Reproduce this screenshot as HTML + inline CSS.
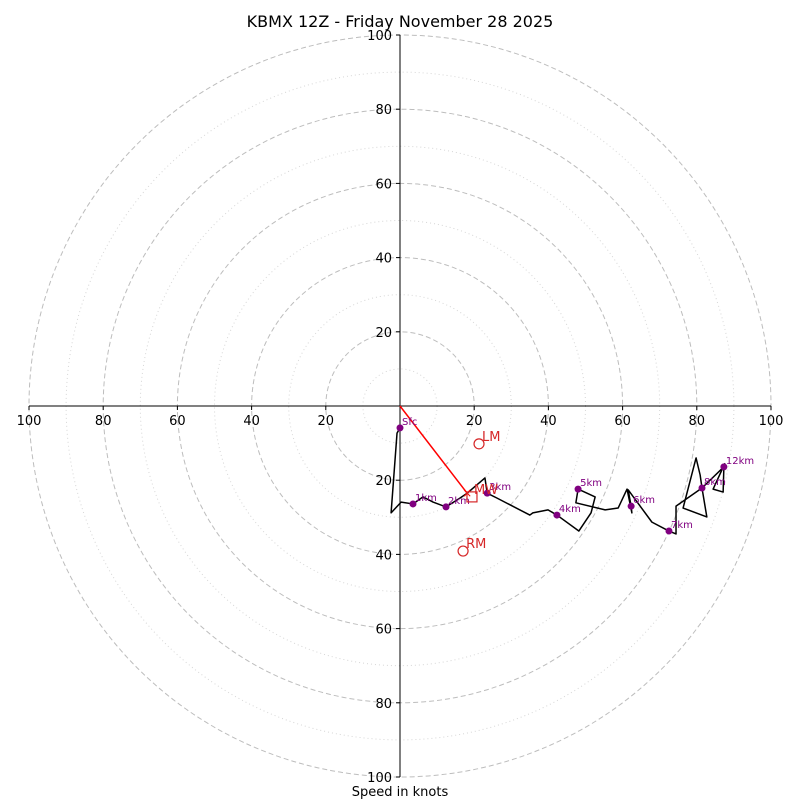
<!DOCTYPE html>
<html><head><meta charset="utf-8"><style>
html,body{margin:0;padding:0;background:#fff;}
svg{display:block;font-family:"DejaVu Sans","Liberation Sans",sans-serif;}
</style></head><body>
<svg id="hodo" width="800" height="800" viewBox="0 0 800 800">
<rect width="800" height="800" fill="#fff"/>
<text x="400" y="27" font-size="16" text-anchor="middle">KBMX 12Z - Friday November 28 2025</text>
<text x="400" y="796" font-size="13" text-anchor="middle">Speed in knots</text>
<g id="rings"></g><g id="axes"></g><g id="trace"></g><g id="marks"></g>
</svg>
<script>
const ringSpeeds=[10,20,30,40,50,60,70,80,90,100];
const tickLabels=[20,40,60,80,100];
const traceU=[0,-0.8,-2.4,0.3,3.5,6.2,8.9,12.4,16.2,18.1,22.9,23.5,26.1,35.0,35.8,39.9,42.3,48.2,51.5,52.6,48.0,47.4,55.3,58.8,61.2,62.5,62.3,61.5,67.9,72.5,74.4,74.4,81.4,80.9,79.8,76.3,82.7,81.4,87.3,87.1,84.4,87.6];
const traceV=[-5.9,-7.3,-28.8,-25.9,-26.4,-24.5,-25.9,-27.2,-24.8,-23.5,-19.4,-23.5,-24.8,-29.4,-28.8,-28.0,-29.4,-33.7,-28.8,-24.5,-22.4,-26.1,-28.0,-27.5,-22.4,-28.8,-27.0,-22.6,-31.3,-33.7,-34.5,-27.0,-22.1,-18.6,-14.0,-27.5,-29.9,-22.1,-16.4,-23.2,-22.4,-15.4];
const markerLabels=["Sfc","1km","2km","3km","4km","5km","6km","7km","8km","12km"];
const markerU=[0,3.5,12.4,23.5,42.3,48.0,62.3,72.5,81.4,87.3];
const markerV=[-5.9,-26.4,-27.2,-23.5,-29.4,-22.4,-27.0,-33.7,-22.1,-16.4];
const stormLabels=["LM","RM"];
const stormU=[21.3,17.0];
const stormV=[-10.2,-39.1];
const mwU=19.4, mwV=-24.5;
const shearU=18.1, shearV=-23.5;

const cx=400, cy=406, R=371, maxS=100;
const sx=u=>cx+u*R/maxS, sy=v=>cy-v*R/maxS, sr=s=>s*R/maxS;
const NS='http://www.w3.org/2000/svg';
function mk(tag,parent,attrs){const e=document.createElementNS(NS,tag);for(const k in attrs)e.setAttribute(k,attrs[k]);document.getElementById(parent).appendChild(e);return e;}

ringSpeeds.forEach(s=>{
  const major=s%20===0;
  const c=mk('circle','rings',{cx:cx,cy:cy,r:sr(s),fill:'none',stroke:major?'#bdbdbd':'#d6d6d6','stroke-width':1,'stroke-dasharray':major?'5,3':'1,3'});
  
  
});
let l=mk('line','axes',{x1:sx(-maxS),y1:cy,x2:sx(maxS),y2:cy,stroke:'#000','stroke-width':1});


l=mk('line','axes',{x1:cx,y1:sy(maxS),x2:cx,y2:sy(-maxS),stroke:'#000','stroke-width':1});


tickLabels.forEach(t=>{
  [-1,1].forEach(d=>{
    const x=sx(d*t);
    mk('line','axes',{x1:x,y1:cy,x2:x,y2:cy+4,stroke:'#000'});
    const tx=mk('text','axes',{x:x,y:cy+19,'font-size':13,'text-anchor':'middle'});
    tx.textContent=t;
    
    
    const y=sy(d*t);
    mk('line','axes',{x1:cx-4,y1:y,x2:cx,y2:y,stroke:'#000'});
    const ty=mk('text','axes',{x:cx-8,y:y+5,'font-size':13,'text-anchor':'end'});
    ty.textContent=t;
    
    
  });
});
const sh=mk('line','trace',{x1:sx(0),y1:sy(0),x2:sx(shearU),y2:sy(shearV),stroke:'#f00','stroke-width':1.5});


const pts=traceU.map((u,i)=>sx(u)+','+sy(traceV[i])).join(' ');
const pl=mk('polyline','trace',{points:pts,fill:'none',stroke:'#000','stroke-width':1.5,'stroke-linejoin':'round'});


const xm=mk('text','trace',{x:sx(shearU),y:sy(shearV)+4,'font-size':12,'text-anchor':'middle',fill:'#f00'});
xm.textContent='×';


markerLabels.forEach((lab,i)=>{
  const c=mk('circle','marks',{cx:sx(markerU[i]),cy:sy(markerV[i]),r:3.5,fill:'#800080'});
  
  
  const t=mk('text','marks',{x:sx(markerU[i])+2,y:sy(markerV[i])-3,'font-size':10,fill:'#800080'});
  t.textContent=lab;
  
  
});
stormLabels.forEach((lab,i)=>{
  const c=mk('circle','marks',{cx:sx(stormU[i]),cy:sy(stormV[i]),r:5,fill:'none',stroke:'#d62728','stroke-width':1.2});
  
  
  const t=mk('text','marks',{x:sx(stormU[i])+3,y:sy(stormV[i])-3,'font-size':13,fill:'#d62728'});
  t.textContent=lab;
  
  
});
const sq=mk('rect','marks',{x:sx(mwU)-5,y:sy(mwV)-5,width:10,height:10,fill:'none',stroke:'#d62728','stroke-width':1.2});


const mt=mk('text','marks',{x:sx(mwU)+2,y:sy(mwV)-3,'font-size':13,fill:'#d62728'});
mt.textContent='MW';


</script>
</body></html>
